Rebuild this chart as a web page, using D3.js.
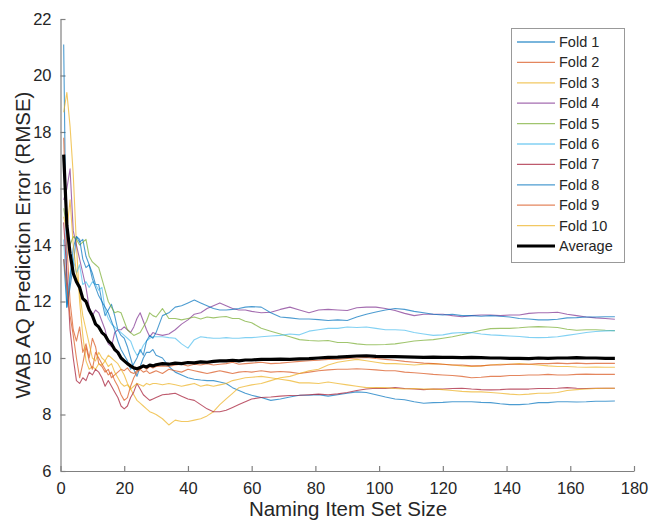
<!DOCTYPE html>
<html lang="en">
<head>
<meta charset="UTF-8">
<title>WAB AQ Prediction Error</title>
<script src="https://d3js.org/d3.v7.min.js"></script>
<style>
  body { margin: 0; background: #fff; }
  svg text { font-family: "Liberation Sans", Arial, Helvetica, sans-serif; fill: #262626; }
</style>
</head>
<body>
<svg id="chart" width="649" height="521"></svg>
<script>
// item set sizes that were sampled off the picture
const setSize = [1,2,3,4,5,6,7,8,9,10,11,12,13,14,15,16,17,18,19,20,21,22,23,24,25,26,27,28,29,30,
  32,34,36,38,40,42,44,46,48,50,52,54,56,58,60,
  63,66,69,72,75,78,81,84,87,90,93,96,99,102,105,108,111,114,117,120,123,126,129,132,135,138,141,144,147,150,153,156,159,162,165,168,171,174];

const fold1 = [21.1,11.8,12.5,13.3,14.3,14.1,14.2,13.6,13.3,13.0,12.6,12.6,12.0,11.5,11.7,11.9,11.5,11.0,10.8,10.7,10.4,10.0,9.6,9.35,9.7,10.0,10.2,10.2,10.3,10.1,
  10.0,9.7,9.5,9.4,9.3,9.25,9.22,9.2,9.2,9.15,9.1,8.95,8.85,8.75,8.68,
  8.6,8.5,8.55,8.62,8.68,8.68,8.7,8.65,8.7,8.75,8.8,8.78,8.7,8.62,8.55,8.52,8.45,8.4,8.42,8.43,8.45,8.45,8.45,8.43,8.42,8.38,8.35,8.35,8.37,8.42,8.42,8.45,8.45,8.44,8.45,8.47,8.47,8.48];
const fold2 = [17.8,14.0,12.0,11.0,10.6,11.1,10.2,10.5,10.0,10.7,10.4,9.8,9.7,9.5,9.6,9.3,9.4,9.5,9.6,9.55,9.65,9.5,9.45,9.55,9.6,9.5,9.55,9.45,9.5,9.55,
  9.45,9.6,9.55,9.5,9.6,9.55,9.5,9.45,9.5,9.55,9.5,9.45,9.5,9.52,9.5,
  9.55,9.5,9.52,9.5,9.45,9.5,9.55,9.58,9.6,9.6,9.62,9.6,9.58,9.55,9.55,9.5,9.48,9.45,9.42,9.4,9.38,9.35,9.3,9.32,9.35,9.35,9.38,9.38,9.4,9.4,9.42,9.4,9.4,9.42,9.43,9.42,9.42,9.42];
const fold3 = [18.7,19.4,18.2,16.5,14.0,12.0,10.8,9.9,9.6,9.7,9.6,9.8,9.75,9.9,10.1,10.0,9.9,9.8,9.6,9.4,9.1,8.9,8.7,8.5,8.4,8.3,8.2,8.1,8.05,8.0,
  7.85,7.63,7.8,7.75,7.75,7.8,7.85,7.95,8.1,8.35,8.55,8.75,8.95,9.0,9.05,
  9.1,9.2,9.3,9.35,9.45,9.55,9.6,9.75,9.85,9.9,9.95,9.9,9.85,9.8,9.8,9.78,9.75,9.78,9.8,9.78,9.75,9.72,9.7,9.72,9.75,9.78,9.78,9.8,9.78,9.75,9.72,9.7,9.7,9.68,9.67,9.68,9.67,9.67];
const fold4 = [15.6,16.0,16.7,14.5,14.0,13.5,13.0,12.5,11.8,11.5,11.7,11.6,11.3,11.0,10.5,10.4,10.9,11.0,11.0,11.1,11.0,10.9,11.1,11.4,11.6,11.3,11.0,10.75,10.9,10.85,
  10.8,10.85,11.0,11.2,11.35,11.55,11.6,11.75,11.85,11.95,11.85,11.75,11.7,11.7,11.65,
  11.6,11.62,11.72,11.8,11.7,11.6,11.7,11.72,11.7,11.68,11.78,11.8,11.8,11.75,11.68,11.58,11.5,11.55,11.55,11.55,11.5,11.46,11.5,11.52,11.52,11.5,11.52,11.52,11.58,11.6,11.6,11.62,11.55,11.5,11.45,11.42,11.4,11.37];
const fold5 = [15.3,14.6,14.0,14.3,14.2,14.0,14.1,14.2,13.6,13.4,13.3,13.2,12.8,12.4,12.0,11.8,11.6,11.65,11.6,11.3,11.0,10.9,10.8,10.85,10.9,11.1,11.3,11.6,11.5,11.45,
  11.75,11.4,11.4,11.35,11.4,11.45,11.38,11.45,11.42,11.45,11.47,11.4,11.4,11.3,11.25,
  11.05,10.95,10.85,10.75,10.65,10.62,10.6,10.62,10.55,10.55,10.5,10.47,10.47,10.48,10.5,10.55,10.6,10.63,10.65,10.7,10.75,10.82,10.9,10.98,11.04,11.05,11.05,11.07,11.1,11.11,11.1,11.08,11.02,10.98,11.0,11.0,10.98,10.97];
const fold6 = [14.2,12.0,13.0,13.5,13.0,13.3,12.6,12.7,12.5,12.7,12.6,12.4,12.5,11.7,11.4,11.2,11.1,11.0,10.9,10.8,10.7,10.6,10.3,10.1,10.2,10.45,10.6,10.7,10.75,10.75,
  10.75,10.72,10.7,10.5,10.35,10.65,10.75,10.72,10.7,10.7,10.72,10.7,10.7,10.72,10.72,
  10.75,10.78,10.8,10.85,10.82,10.95,11.0,11.05,11.05,11.1,11.08,11.1,11.05,11.0,11.0,10.98,10.9,10.85,10.8,10.82,10.88,10.9,10.9,10.85,10.82,10.8,10.78,10.76,10.73,10.72,10.73,10.75,10.8,10.85,10.9,10.94,10.96,10.97];
const fold7 = [14.8,13.0,11.0,10.0,9.2,9.1,9.3,9.2,9.5,9.4,9.6,9.5,9.3,9.0,9.2,9.0,8.8,8.6,8.3,8.2,8.3,8.6,8.8,9.1,8.9,8.7,8.6,8.5,8.55,8.6,
  8.7,8.72,8.75,8.65,8.55,8.5,8.35,8.2,8.1,8.1,8.15,8.25,8.35,8.45,8.55,
  8.6,8.62,8.65,8.67,8.68,8.7,8.72,8.7,8.73,8.78,8.85,8.9,8.93,8.92,8.95,8.92,8.9,8.88,8.9,8.9,8.92,8.93,8.9,8.88,8.87,8.88,8.9,8.9,8.9,8.92,8.92,8.93,8.95,8.93,8.92,8.93,8.93,8.93];
const fold8 = [13.5,11.8,12.8,13.9,14.3,14.2,13.5,13.2,13.3,12.8,12.5,12.2,12.0,11.8,11.6,11.3,11.0,10.6,10.3,10.1,9.9,9.6,9.8,10.0,10.3,10.1,10.6,10.8,10.7,10.9,
  11.5,11.6,11.8,11.85,11.95,12.05,11.95,11.85,11.75,11.7,11.7,11.72,11.75,11.8,11.82,
  11.8,11.6,11.45,11.42,11.38,11.38,11.36,11.33,11.35,11.33,11.45,11.55,11.63,11.7,11.75,11.72,11.65,11.6,11.55,11.52,11.55,11.5,11.5,11.48,11.5,11.48,11.45,11.4,11.38,11.35,11.35,11.37,11.42,11.43,11.45,11.45,11.46,11.46];
const fold9 = [13.5,12.5,11.5,10.8,10.0,9.3,9.8,10.4,9.9,9.6,10.2,10.0,9.8,9.6,9.4,9.5,9.2,9.0,8.7,8.5,8.6,9.0,9.3,9.5,9.6,9.7,9.6,9.7,9.65,9.7,
  9.72,9.7,9.75,9.78,9.72,9.78,9.75,9.8,9.75,9.78,9.8,9.85,9.78,9.8,9.82,
  9.85,9.8,9.82,9.85,9.88,9.9,9.92,9.95,9.95,9.98,10.0,10.02,9.98,9.95,9.92,9.88,9.85,9.82,9.8,9.78,9.75,9.75,9.72,9.72,9.75,9.75,9.78,9.78,9.78,9.8,9.8,9.82,9.8,9.82,9.8,9.81,9.81,9.81];
const fold10 = [15.0,14.5,15.6,14.0,13.0,12.3,11.5,11.0,10.5,10.0,9.9,10.2,10.0,9.9,9.7,9.8,9.5,9.3,9.1,9.0,9.05,8.9,9.0,9.1,9.05,9.0,9.1,9.05,9.1,9.1,
  9.05,9.1,9.05,9.0,9.05,9.1,9.0,9.05,9.0,9.05,9.1,9.2,9.25,9.3,9.32,
  9.35,9.3,9.25,9.2,9.12,9.12,9.1,9.15,9.1,9.05,9.0,8.95,8.95,8.95,8.92,8.9,8.92,8.9,8.9,8.88,8.85,8.82,8.8,8.8,8.78,8.75,8.72,8.7,8.72,8.75,8.75,8.78,8.85,8.88,8.9,8.92,8.93,8.93];
const average = [17.2,14.7,13.7,13.0,12.7,12.5,12.1,12.0,11.7,11.5,11.2,11.1,10.9,10.8,10.6,10.5,10.3,10.2,10.0,9.9,9.8,9.72,9.65,9.62,9.66,9.72,9.68,9.75,9.72,9.76,
  9.8,9.78,9.82,9.8,9.84,9.83,9.86,9.85,9.88,9.9,9.9,9.92,9.9,9.93,9.93,
  9.95,9.95,9.96,9.95,9.97,9.98,10.0,10.02,10.03,10.05,10.07,10.08,10.06,10.05,10.05,10.04,10.03,10.02,10.03,10.02,10.02,10.01,10.02,10.01,10.0,10.0,9.99,9.99,9.98,10.0,9.99,10.0,10.0,10.01,10.0,10.0,9.99,9.99];

const seriesNames = ["Fold 1","Fold 2","Fold 3","Fold 4","Fold 5","Fold 6","Fold 7","Fold 8","Fold 9","Fold 10","Average"];
const seriesValues = [fold1,fold2,fold3,fold4,fold5,fold6,fold7,fold8,fold9,fold10,average];
const seriesColors = ["#0072BD","#D95319","#EDB120","#7E2F8E","#77AC30","#4DBEEE","#A2142F","#0072BD","#D95319","#EDB120","#000000"];

const xTicks = [0,20,40,60,80,100,120,140,160,180];
const yTicks = [6,8,10,12,14,16,18,20,22];

const svg = d3.select("#chart");

// plot area
const x = d3.scaleLinear().domain([0, 180]).range([60.5, 634]);
const y = d3.scaleLinear().domain([6, 22]).range([471, 19]);

// axes, MATLAB style: ticks point inward, no box
const xAxis = d3.axisBottom(x).tickValues(xTicks).tickSizeInner(-5).tickSizeOuter(0).tickPadding(9);
const yAxis = d3.axisLeft(y).tickValues(yTicks).tickSizeInner(-5).tickSizeOuter(0).tickPadding(9);

const gx = svg.append("g").attr("transform", `translate(0,${y(6)})`).call(xAxis);
const gy = svg.append("g").attr("transform", `translate(${x(0)},0)`).call(yAxis);

[gx, gy].forEach(g => {
  g.select(".domain").attr("stroke", "#808080").attr("stroke-width", 1.2);
  g.selectAll(".tick line").attr("stroke", "#808080").attr("stroke-width", 1.2);
  g.selectAll(".tick text").attr("font-size", 16.5).attr("fill", "#333");
});
gx.selectAll(".tick text").attr("dy", "0.85em");

// fold lines
const line = d3.line()
  .x((d, i) => x(setSize[i]))
  .y(d => y(d));

seriesValues.forEach((vals, k) => {
  const isAvg = k === seriesValues.length - 1;
  svg.append("path")
    .datum(vals)
    .attr("fill", "none")
    .attr("stroke", seriesColors[k])
    .attr("stroke-opacity", isAvg ? 1 : 0.7)
    .attr("stroke-width", isAvg ? 3.2 : 1.1)
    .attr("stroke-linejoin", "round")
    .attr("d", line);
});

// axis titles
svg.append("text")
  .attr("x", 348).attr("y", 516)
  .attr("text-anchor", "middle")
  .attr("font-size", 20.5)
  .text("Naming Item Set Size");

svg.append("text")
  .attr("transform", "translate(30,245) rotate(-90)")
  .attr("text-anchor", "middle")
  .attr("font-size", 20.5)
  .text("WAB AQ Prediction Error (RMSE)");

// legend
const legend = svg.append("g");
legend.append("rect")
  .attr("x", 511.5).attr("y", 28.5)
  .attr("width", 113).attr("height", 234)
  .attr("fill", "#fff")
  .attr("stroke", "#999");

seriesNames.forEach((name, k) => {
  const rowY = 42 + k * 20.4;
  const isAvg = k === seriesNames.length - 1;
  legend.append("line")
    .attr("x1", 517).attr("x2", 555)
    .attr("y1", rowY).attr("y2", rowY)
    .attr("stroke", seriesColors[k])
    .attr("stroke-opacity", isAvg ? 1 : 0.7)
    .attr("stroke-width", isAvg ? 3 : 1.3);
  legend.append("text")
    .attr("x", 559).attr("y", rowY)
    .attr("dy", "0.35em")
    .attr("font-size", 14.5)
    .text(name);
});
</script>
</body>
</html>
